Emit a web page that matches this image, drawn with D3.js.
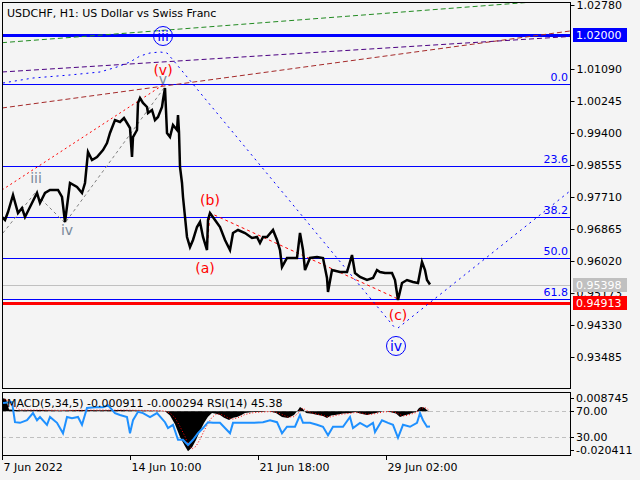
<!DOCTYPE html>
<html><head><meta charset="utf-8">
<script src="https://cdn.jsdelivr.net/npm/d3@7"></script>
<style>body{margin:0;background:#f4f4f4;} svg{display:block;font-family:"DejaVu Sans",sans-serif;}</style>
</head><body><svg id="c" width="640" height="480"></svg>
<script>
// ---------- DATA ----------
const title = "USDCHF, H1:  US Dollar vs Swiss Franc";
const priceTicks = [1.02780,1.01090,1.00245,0.99400,0.98555,0.97710,0.96865,0.96020,0.95173,0.94330,0.93485];
const priceTickLabels = ["1.02780","1.01090","1.00245","0.99400","0.98555","0.97710","0.96865","0.96020","0.95173","0.94330","0.93485"];
const timeTickIdx = [0,128,256,384];
const timeTickLabels = ["7 Jun 2022","14 Jun 10:00","21 Jun 18:00","29 Jun 02:00"];

// hourly bar index and price (close path)
const priceIdx = [0,3,6,11,16,20,23,28,35,38,43,48,56,60,63,68,75,80,83,86,90,95,101,105,108,113,118,122,125,128,130,131,135,136,138,141,145,146,150,153,156,160,161,163,165,168,171,175,176,177,178,180,181,183,185,188,191,195,198,201,205,206,208,213,218,223,228,231,236,243,250,255,258,261,265,271,275,278,280,285,295,298,301,303,308,315,321,325,326,330,338,345,350,353,358,365,371,375,378,383,390,393,396,400,405,411,416,420,423,425,428];
const priceVal = [0.97182,0.97103,0.97314,0.97763,0.97288,0.97420,0.97182,0.97446,0.97816,0.97552,0.97816,0.97895,0.97895,0.97710,0.97050,0.98080,0.97974,0.97816,0.98080,0.98898,0.98687,0.98766,0.98951,0.99136,0.99400,0.99743,0.99691,0.99796,0.99664,0.99532,0.98766,0.99294,0.99479,1.00192,1.00324,1.00192,1.00087,0.99928,1.00007,0.99743,0.99823,1.00087,1.00271,1.00588,0.99400,0.99294,0.99611,0.99479,0.99875,0.99426,0.98502,0.98080,0.97710,0.97182,0.96654,0.96390,0.96575,0.96918,0.97050,0.96654,0.96310,0.97103,0.97288,0.97103,0.96918,0.96575,0.96310,0.96759,0.96839,0.96759,0.96627,0.96654,0.96495,0.96654,0.96654,0.96839,0.96575,0.96310,0.95862,0.96099,0.96099,0.96759,0.96310,0.95782,0.96099,0.96126,0.96099,0.95571,0.95201,0.95782,0.95729,0.95729,0.96178,0.95703,0.95597,0.95518,0.95571,0.95782,0.95729,0.95703,0.95703,0.95518,0.94990,0.95439,0.95518,0.95465,0.95439,0.95994,0.95782,0.95518,0.95398];

// horizontal levels
const levelBlue = 1.02000;
const levelGrey = 0.95398;
const levelRed = 0.94913;
const fibLabels = ["0.0","23.6","38.2","50.0","61.8"];
const fibPrices = [1.00694,0.98526,0.97185,0.96101,0.95017];

// trend lines [idx, price] anchors
const greenLine = [[0,1.01785],[568,1.02934]];
const purpleLine = [[0,1.01011],[568,1.01948]];
const brownLine = [[0,1.00060],[568,1.02093]];
const blueArc = [[1,1.00720],[31,1.00852],[68,1.00932],[98,1.01011],[115,1.01143],[128,1.01275],[138,1.01433],[148,1.01513],[158,1.01539],[165,1.01513],[171,1.01328],[393,0.94251]];
const blueUp = [[396,0.94251],[568,0.97868]];
const redUp = [[0,0.97895],[161,1.00668]];
const greyWave = [[1,0.96760],[33,0.97816],[63,0.97023],[162,1.00588]];
const redABC = [[205,0.96310],[208,0.97288],[396,0.95017]];

// wave labels
const redLabels = [["(v)",161,1.01064],["(a)",203,0.95835],["(b)",208,0.97631],["(c)",396,0.94594]];
const greyLabels = [["v",161,1.00826],["iii",34,0.98212],["iv",65,0.96839]];
const circledLabels = [["iii",161,1.01961],["iv",394,0.93776]];

// indicator window
const indLabel = "MACD(5,34,5) -0.000911 -0.000294 RSI(14) 45.38";
const indTickVals = ["0.008745","70.00","30.00","-0.020411"];
const macdIdx = [0,4,7,18,38,58,78,98,118,138,158,163,168,173,178,183,186,190,194,198,202,206,210,214,218,222,227,231,235,239,243,251,259,267,274,280,286,292,296,298,301,304,310,316,321,325,329,333,341,349,353,359,365,370,374,382,388,394,398,402,406,410,414,417,419,422,425,427];
const macdVal = [0.0060,0.0055,0.0008,0.0004,0.0006,0.0003,0.0005,0.0004,0.0006,0.0003,0.0002,0.0000,-0.0020,-0.0060,-0.0117,-0.0160,-0.0182,-0.0165,-0.0131,-0.0090,-0.0054,-0.0025,-0.0008,-0.0012,-0.0017,-0.0030,-0.0040,-0.0030,-0.0026,-0.0018,-0.0008,-0.0004,-0.0004,0.0000,-0.0008,-0.0026,-0.0031,-0.0017,0.0005,0.0019,0.0010,-0.0008,-0.0012,-0.0017,-0.0022,-0.0031,-0.0020,-0.0017,-0.0010,-0.0008,-0.0004,-0.0012,-0.0017,-0.0012,-0.0008,0.0001,-0.0004,-0.0010,-0.0026,-0.0020,-0.0015,-0.0008,-0.0004,0.0015,0.0019,0.0017,0.0005,-0.0004];
const signalVal = [0.0045,0.0055,0.0035,0.0006,0.0005,0.0004,0.0004,0.0005,0.0005,0.0004,0.0002,0.0001,-0.0008,-0.0030,-0.0070,-0.0115,-0.0150,-0.0172,-0.0160,-0.0128,-0.0090,-0.0055,-0.0028,-0.0014,-0.0013,-0.0020,-0.0032,-0.0036,-0.0031,-0.0024,-0.0015,-0.0007,-0.0004,-0.0002,-0.0004,-0.0015,-0.0027,-0.0025,-0.0010,0.0005,0.0014,0.0004,-0.0008,-0.0014,-0.0019,-0.0025,-0.0026,-0.0020,-0.0013,-0.0009,-0.0006,-0.0008,-0.0014,-0.0014,-0.0010,-0.0003,-0.0002,-0.0006,-0.0016,-0.0022,-0.0018,-0.0012,-0.0006,0.0005,0.0012,0.0017,0.0012,0.0004];
const rsiIdx = [1,10,13,18,25,31,35,38,45,48,55,61,65,70,76,80,85,93,101,106,113,118,125,128,131,136,141,148,155,163,166,171,176,181,186,191,196,201,206,211,218,228,231,241,251,261,268,275,280,285,293,298,301,308,315,321,326,331,341,348,351,358,365,371,373,380,386,391,396,401,408,415,418,421,425,428];
const rsiVal = [81.5,83,52,51,55,66,55,60,48,60,51,35,60,58,60,48,74,75,75,78,66,63,60,35,55,68,66,60,66,52,43,48,25,25,17,25,35,43,52,51,51,35,51,51,51,52,55,52,35,45,45,63,51,51,48,45,32,45,45,60,43,51,45,51,37,55,51,48,28,48,45,51,66,55,45,45.38];

// ---------- DRAW ----------
const svg = d3.select("#c");
const F = "DejaVu Sans, sans-serif";
const x = d3.scaleLinear().domain([0,568]).range([2,570]);
const y = d3.scaleLinear().domain([0.93485,1.02780]).range([357,5]);
const yR = d3.scaleLinear().domain([0,100]).range([456,391]);
const yM = d3.scaleLinear().domain([-0.020411,0.008745]).range([456,392]);

svg.append("rect").attr("width",640).attr("height",480).attr("fill","#f4f4f4");

const defs = svg.append("defs");
defs.append("clipPath").attr("id","mainClip").append("rect").attr("x",3).attr("y",3).attr("width",567).attr("height",385);
defs.append("clipPath").attr("id","indClip").append("rect").attr("x",3).attr("y",393).attr("width",567).attr("height",62);

const main = svg.append("g").attr("clip-path","url(#mainClip)");
const lineXY = d3.line().x(d=>x(d[0])).y(d=>y(d[1]));

// horizontal levels
function hline(v, color, w){
  const yy = Math.round(y(v))+(w%2?0.5:0);
  main.append("line").attr("x1",2).attr("x2",570).attr("y1",yy).attr("y2",yy)
    .attr("stroke",color).attr("stroke-width",w).attr("shape-rendering","crispEdges");
}
fibPrices.forEach(v=>hline(v,"#0000ff",1));
hline(levelGrey,"#c0c0c0",1);
hline(levelRed,"#ff0000",3);
hline(levelBlue,"#0000ff",3);

fibPrices.forEach((v,k)=>{
  main.append("text").attr("x",568).attr("y",Math.round(y(v))-3).attr("text-anchor","end")
    .attr("font-family",F).attr("font-size",11).attr("fill","#0000ff").text(fibLabels[k]);
});

// trend lines
main.append("path").attr("d",lineXY(greenLine)).attr("fill","none").attr("stroke","#228b22").attr("stroke-dasharray","5,3");
main.append("path").attr("d",lineXY(purpleLine)).attr("fill","none").attr("stroke","#4b0082").attr("stroke-dasharray","5,3");
main.append("path").attr("d",lineXY(brownLine)).attr("fill","none").attr("stroke","#a52a2a").attr("stroke-dasharray","5,3");
main.append("path").attr("d",lineXY(blueArc)).attr("fill","none").attr("stroke","#0000ff").attr("stroke-dasharray","2,4");
main.append("path").attr("d",lineXY(blueUp)).attr("fill","none").attr("stroke","#0000ff").attr("stroke-dasharray","2,4");
main.append("path").attr("d",lineXY(redUp)).attr("fill","none").attr("stroke","#ff0000").attr("stroke-dasharray","2,3");
main.append("path").attr("d",lineXY(greyWave)).attr("fill","none").attr("stroke","#808080").attr("stroke-dasharray","3,3");
main.append("path").attr("d",lineXY(redABC)).attr("fill","none").attr("stroke","#ff0000").attr("stroke-dasharray","3,3");

// price
const pts = priceIdx.map((d,k)=>[d,priceVal[k]]);
main.append("path").attr("d",lineXY(pts)).attr("fill","none").attr("stroke","#000").attr("stroke-width",2.5).attr("stroke-linejoin","miter");

// wave labels
redLabels.forEach(d=>{
  main.append("text").attr("x",x(d[1])).attr("y",y(d[2])).attr("dy","0.35em").attr("text-anchor","middle")
    .attr("font-family",F).attr("font-size",14).attr("fill","#ff0000").text(d[0]);
});
greyLabels.forEach(d=>{
  main.append("text").attr("x",x(d[1])).attr("y",y(d[2])).attr("dy","0.35em").attr("text-anchor","middle")
    .attr("font-family",F).attr("font-size",14).attr("fill","#7a8a9a").text(d[0]);
});
circledLabels.forEach(d=>{
  main.append("circle").attr("cx",x(d[1])).attr("cy",y(d[2])).attr("r",9.5).attr("fill","none").attr("stroke","#0000ff");
  main.append("text").attr("x",x(d[1])).attr("y",y(d[2])).attr("dy","0.37em").attr("text-anchor","middle")
    .attr("font-family",F).attr("font-size",14).attr("fill","#0000ff").text(d[0]);
});

// frame main
svg.append("rect").attr("x",2.5).attr("y",2.5).attr("width",568).attr("height",386).attr("fill","none").attr("stroke","#000");

// right price axis
const ax = svg.append("g").attr("transform","translate(570.5,0)")
  .call(d3.axisRight(y).tickValues(priceTicks).tickFormat((d,k)=>priceTickLabels[k]).tickSize(4));
ax.select(".domain").remove();
ax.selectAll("text").attr("font-family",F).attr("font-size",11).attr("fill","#000").attr("x",6);
ax.selectAll("line").attr("stroke","#000");

// value boxes
function box(v, bg, fg){
  const yy = Math.round(y(v));
  svg.append("rect").attr("x",573).attr("y",yy-7).attr("width",54).attr("height",14).attr("fill",bg);
  svg.append("text").attr("x",576).attr("y",yy).attr("dy","0.35em").attr("font-family",F).attr("font-size",11).attr("fill",fg).text(v.toFixed(5));
}
box(levelBlue,"#0000ff","#ffffff");
box(levelGrey,"#c0c0c0","#ffffff");
box(levelRed,"#ff0000","#ffffff");

// title
svg.append("text").attr("x",7).attr("y",17).attr("font-family",F).attr("font-size",11).attr("fill","#000").text(title);

// ---------- indicator window ----------
const ind = svg.append("g").attr("clip-path","url(#indClip)");
[70,30].forEach(v=>{
  const yy = Math.round(yR(v))+0.5;
  ind.append("line").attr("x1",2).attr("x2",570).attr("y1",yy).attr("y2",yy)
    .attr("stroke","#c0c0c0").attr("stroke-dasharray","4,3");
});
const mPts = macdIdx.map((d,k)=>[d,macdVal[k]]);
ind.append("path").attr("d",d3.area().x(d=>x(d[0])).y0(yM(0)).y1(d=>yM(d[1]))(mPts)).attr("fill","#000");
const sPts = macdIdx.map((d,k)=>[d,signalVal[k]]);
ind.append("path").attr("d",d3.line().x(d=>x(d[0])).y(d=>yM(d[1]))(sPts)).attr("fill","none").attr("stroke","#ff0000").attr("stroke-dasharray","1,2");
const rPts = rsiIdx.map((d,k)=>[d,rsiVal[k]]);
ind.append("path").attr("d",d3.line().x(d=>x(d[0])).y(d=>yR(d[1]))(rPts)).attr("fill","none").attr("stroke","#1e90ff").attr("stroke-width",2);
svg.append("text").attr("x",7).attr("y",407).attr("font-family",F).attr("font-size",11).attr("fill","#000").text(indLabel);
svg.append("rect").attr("x",2.5).attr("y",392.5).attr("width",568).attr("height",63).attr("fill","none").attr("stroke","#000");

const indYs = [yM(0.008745)+6, yR(70), yR(30), yM(-0.020411)-6];
indTickVals.forEach((t,k)=>{
  const yy = Math.round(indYs[k])+0.5;
  svg.append("line").attr("x1",570).attr("x2",574).attr("y1",yy).attr("y2",yy).attr("stroke","#000");
  svg.append("text").attr("x",576).attr("y",yy).attr("dy","0.35em").attr("font-family",F).attr("font-size",11).attr("fill","#000").text(t);
});

// time axis
const tax = svg.append("g").attr("transform","translate(0,456)")
  .call(d3.axisBottom(x).tickValues(timeTickIdx).tickFormat((d,k)=>timeTickLabels[k]).tickSize(4));
tax.select(".domain").remove();
tax.selectAll("text").attr("font-family",F).attr("font-size",11).attr("fill","#000").attr("text-anchor","start").attr("x",1).attr("y",7);
tax.selectAll("line").attr("stroke","#000");
</script></body></html>
